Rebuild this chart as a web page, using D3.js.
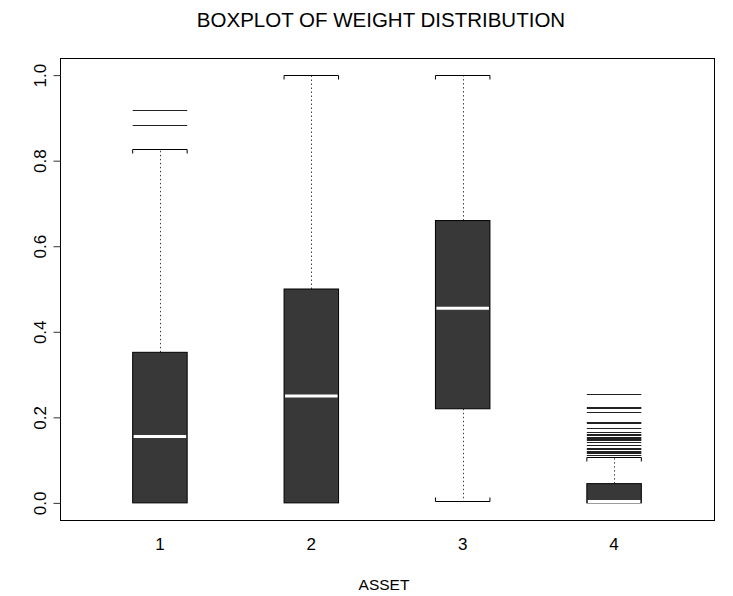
<!DOCTYPE html>
<html>
<head>
<meta charset="utf-8">
<script src="https://cdn.jsdelivr.net/npm/d3@7/dist/d3.min.js"></script>
<style>
  body { margin: 0; background: #fff; }
  text { font-family: "Liberation Sans", Arial, sans-serif; fill: #000; }
</style>
</head>
<body>
<div id="chart"></div>
<script>
// values
const categories = ["1", "2", "3", "4"]
const lowerWhisker = [0, 0, 0.005, 0]
const q1 = [0, 0, 0.22, 0]
const medians = [0.155, 0.25, 0.455, 0.003]
const q3 = [0.352, 0.5, 0.66, 0.045]
const upperWhisker = [0.828, 1.0, 1.0, 0.108]
const outliers = [
  [0.884, 0.918],
  [],
  [],
  [0.254, 0.225, 0.221, 0.213, 0.19, 0.186, 0.174, 0.165, 0.162, 0.159, 0.155,
   0.152, 0.149, 0.146, 0.143, 0.136, 0.128, 0.125, 0.122, 0.119, 0.116, 0.113]
]
const yTicks = [0, 0.2, 0.4, 0.6, 0.8, 1.0]

const W = 733, H = 596
const margin = {top: 58, right: 19, bottom: 76, left: 60}

const svg = d3.select("#chart").append("svg")
  .attr("width", W)
  .attr("height", H)

// R style: 4% extension on both axes
let x = d3.scaleLinear().domain([0.34, 4.66]).range([margin.left, W - margin.right])
let y = d3.scaleLinear().domain([-0.04, 1.04]).range([H - margin.bottom, margin.top])

const boxHalf = 0.18 // in axis units

let data = categories.map((c, i) => ({
  cat: c, pos: i + 1,
  lo: lowerWhisker[i], q1: q1[i], med: medians[i], q3: q3[i], hi: upperWhisker[i],
  out: outliers[i]
}))

let g = svg.append("g")

// whiskers (dotted)
g.selectAll("line.whisk-up").data(data).enter().append("line")
  .attr("x1", d => Math.round(x(d.pos)) + 0.5).attr("x2", d => Math.round(x(d.pos)) + 0.5)
  .attr("y1", d => y(d.q3)).attr("y2", d => y(d.hi))
  .attr("stroke", "#444").attr("stroke-dasharray", "1.5,2.5")
g.selectAll("line.whisk-lo").data(data).enter().append("line")
  .attr("x1", d => Math.round(x(d.pos)) + 0.5).attr("x2", d => Math.round(x(d.pos)) + 0.5)
  .attr("y1", d => y(d.q1)).attr("y2", d => y(d.lo))
  .attr("stroke", "#444").attr("stroke-dasharray", "1.5,2.5")

// staples with small end ticks toward the box
function staple(d, v, dir) {
  let x0 = x(d.pos - boxHalf), x1 = x(d.pos + boxHalf), yy = Math.round(y(v)) + 0.5
  return "M" + x0 + "," + (yy + 4 * dir) + "V" + yy + "H" + x1 + "V" + (yy + 4 * dir)
}
g.selectAll("path.staple-up").data(data.filter(d => d.hi > d.q3)).enter().append("path")
  .attr("d", d => staple(d, d.hi, 1))
  .attr("fill", "none").attr("stroke", "#000")
g.selectAll("path.staple-lo").data(data.filter(d => d.lo < d.q1)).enter().append("path")
  .attr("d", d => staple(d, d.lo, -1))
  .attr("fill", "none").attr("stroke", "#000")

// boxes
g.selectAll("rect.box").data(data).enter().append("rect")
  .attr("x", d => x(d.pos - boxHalf))
  .attr("width", d => x(d.pos + boxHalf) - x(d.pos - boxHalf))
  .attr("y", d => y(d.q3))
  .attr("height", d => y(d.q1) - y(d.q3))
  .attr("fill", "#383838")
  .attr("stroke", "#000")

// medians
g.selectAll("line.med").data(data).enter().append("line")
  .attr("x1", d => x(d.pos - boxHalf) + 1).attr("x2", d => x(d.pos + boxHalf) - 1)
  .attr("y1", d => y(d.med)).attr("y2", d => y(d.med))
  .attr("stroke", "#fff").attr("stroke-width", 3)

// outliers drawn as horizontal dashes the width of the box
let outs = []
data.forEach(d => d.out.forEach(v => outs.push({pos: d.pos, v: v})))
g.selectAll("line.out").data(outs).enter().append("line")
  .attr("x1", d => x(d.pos - boxHalf)).attr("x2", d => x(d.pos + boxHalf))
  .attr("y1", d => Math.round(y(d.v)) + 0.5).attr("y2", d => Math.round(y(d.v)) + 0.5)
  .attr("stroke", "#222")

// plot frame
svg.append("rect")
  .attr("x", margin.left + 0.5).attr("y", margin.top + 0.5)
  .attr("width", W - margin.left - margin.right)
  .attr("height", H - margin.top - margin.bottom)
  .attr("fill", "none").attr("stroke", "#000")

// y axis, labels rotated like R's default
let yAxis = svg.append("g")
  .attr("transform", "translate(" + (margin.left + 0.5) + ",0)")
  .call(d3.axisLeft(y).tickValues(yTicks).tickSize(7).tickFormat(d3.format(".1f")))
yAxis.select(".domain").remove()
yAxis.selectAll("line").attr("stroke", "#333")
yAxis.selectAll("text")
  .attr("font-size", 17)
  .attr("x", null).attr("dy", null).attr("y", 0)
  .attr("text-anchor", "middle")
  .attr("transform", "translate(-15,0) rotate(-90)")

// x axis labels (no ticks, no line, as in the reference)
svg.append("g").selectAll("text").data(data).enter().append("text")
  .attr("x", d => x(d.pos)).attr("y", 550)
  .attr("text-anchor", "middle").attr("font-size", 17)
  .text(d => d.cat)

// titles
svg.append("text")
  .attr("x", 381).attr("y", 27)
  .attr("text-anchor", "middle").attr("font-size", 20.5)
  .text("BOXPLOT OF WEIGHT DISTRIBUTION")
svg.append("text")
  .attr("x", 384).attr("y", 590)
  .attr("text-anchor", "middle").attr("font-size", 15.5)
  .text("ASSET")
</script>
</body>
</html>
